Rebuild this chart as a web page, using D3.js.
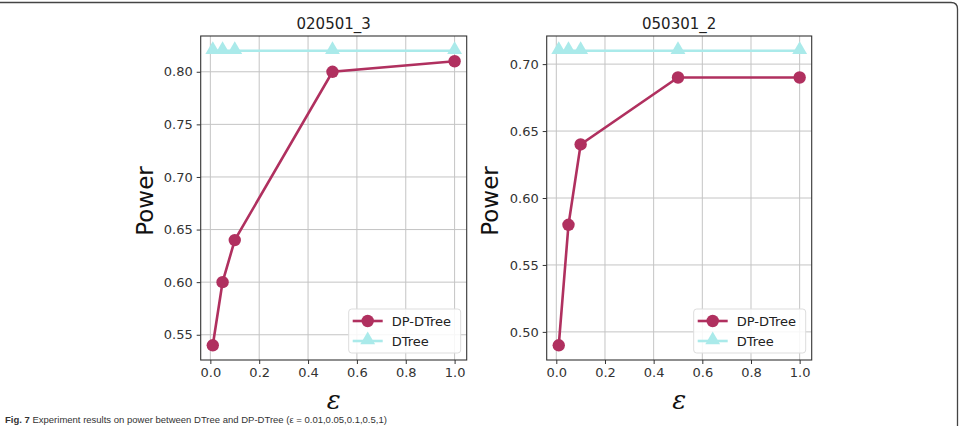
<!DOCTYPE html>
<html>
<head>
<meta charset="utf-8">
<script src="https://cdn.jsdelivr.net/npm/d3@7"></script>
<style>
  html, body { margin: 0; padding: 0; background: #fff; }
  svg { display: block; font-family: "DejaVu Sans", sans-serif; }
</style>
</head>
<body>
<svg id="chart" width="962" height="426"></svg>
<script>
// ---- data ----
const epsilons = [0.01, 0.05, 0.1, 0.5, 1.0];
const panelTitles = ["020501_3", "050301_2"];
const dpDTreeA = [0.54, 0.60, 0.64, 0.80, 0.81];
const dTreeA = [0.82, 0.82, 0.82, 0.82, 0.82];
const dpDTreeB = [0.49, 0.58, 0.64, 0.69, 0.69];
const dTreeB = [0.71, 0.71, 0.71, 0.71, 0.71];
const xTicks = [0.0, 0.2, 0.4, 0.6, 0.8, 1.0];
const yTicksA = [0.55, 0.60, 0.65, 0.70, 0.75, 0.80];
const yTicksB = [0.50, 0.55, 0.60, 0.65, 0.70];
const seriesNames = ["DP-DTree", "DTree"];
const caption = "Fig. 7 Experiment results on power between DTree and DP-DTree (ε = 0.01,0.05,0.1,0.5,1)";

const colDP = "#b0305f";
const colDT = "#aaeaea";

const svg = d3.select("#chart");

// frame
svg.append("path")
  .attr("d", "M0,2.5 H951 Q957.5,2.5 957.5,9 V426")
  .attr("fill", "none").attr("stroke", "#444").attr("stroke-width", 1.3);

const panels = [
  { title: panelTitles[0], dp: dpDTreeA, dt: dTreeA, yTicks: yTicksA, left: 200.7, right: 466.7, ylabX: 146 },
  { title: panelTitles[1], dp: dpDTreeB, dt: dTreeB, yTicks: yTicksB, left: 546.7, right: 811.7, ylabX: 491 }
];
const plotTop = 36, plotBottom = 360;

panels.forEach(p => {
  const g = svg.append("g");
  const allY = p.dp.concat(p.dt);
  const yMin = d3.min(allY), yMax = d3.max(allY);
  const yPad = (yMax - yMin) * 0.05;
  const xMin = d3.min(epsilons), xMax = d3.max(epsilons);
  const xPad = (xMax - xMin) * 0.05;
  const x = d3.scaleLinear().domain([xMin - xPad, xMax + xPad]).range([p.left, p.right]);
  const y = d3.scaleLinear().domain([yMin - yPad, yMax + yPad]).range([plotBottom, plotTop]);

  // grid
  g.append("g").selectAll("line").data(xTicks).join("line")
    .attr("x1", d => x(d)).attr("x2", d => x(d)).attr("y1", plotTop).attr("y2", plotBottom)
    .attr("stroke", "#c4c4c4").attr("stroke-width", 1);
  g.append("g").selectAll("line").data(p.yTicks).join("line")
    .attr("x1", p.left).attr("x2", p.right).attr("y1", d => y(d)).attr("y2", d => y(d))
    .attr("stroke", "#c4c4c4").attr("stroke-width", 1);

  // axes
  const xAxis = g.append("g").attr("transform", `translate(0,${plotBottom})`)
    .call(d3.axisBottom(x).tickValues(xTicks).tickFormat(d3.format(".1f")).tickSize(4).tickPadding(4));
  const yAxis = g.append("g").attr("transform", `translate(${p.left},0)`)
    .call(d3.axisLeft(y).tickValues(p.yTicks).tickFormat(d3.format(".2f")).tickSize(4).tickPadding(4));
  [xAxis, yAxis].forEach(a => {
    a.select(".domain").remove();
    a.selectAll(".tick line").attr("stroke", "#333");
    a.selectAll(".tick text").attr("fill", "#333").style("font-size", "13px")
      .style("font-family", "DejaVu Sans, sans-serif");
  });

  // spines
  g.append("rect").attr("x", p.left).attr("y", plotTop)
    .attr("width", p.right - p.left).attr("height", plotBottom - plotTop)
    .attr("fill", "none").attr("stroke", "#333").attr("stroke-width", 1.1);

  // title
  g.append("text").attr("x", (p.left + p.right) / 2).attr("y", plotTop - 7)
    .attr("text-anchor", "middle").attr("fill", "#222").style("font-size", "15px").text(p.title);

  // axis labels
  g.append("text").attr("transform", `translate(${p.ylabX},${(plotTop + plotBottom) / 2 + 3}) rotate(-90)`)
    .attr("text-anchor", "middle").attr("dominant-baseline", "middle")
    .attr("fill", "#111").style("font-size", "23px").text("Power");
  g.append("text").attr("x", (p.left + p.right) / 2).attr("y", 409)
    .attr("text-anchor", "middle").attr("fill", "#111")
    .style("font-size", "26px").style("font-style", "italic")
    .style("font-family", "DejaVu Serif, serif").text("ε");

  const line = d3.line().x((d, i) => x(epsilons[i])).y(d => y(d));
  const tri = d3.symbol().type(d3.symbolTriangle).size(95);

  // DTree
  g.append("path").datum(p.dt).attr("d", line)
    .attr("fill", "none").attr("stroke", colDT).attr("stroke-width", 2.6);
  g.append("g").selectAll("path").data(p.dt).join("path")
    .attr("d", tri).attr("transform", (d, i) => `translate(${x(epsilons[i])},${y(d) - 1})`)
    .attr("fill", colDT);

  // DP-DTree
  g.append("path").datum(p.dp).attr("d", line)
    .attr("fill", "none").attr("stroke", colDP).attr("stroke-width", 2.6);
  g.append("g").selectAll("circle").data(p.dp).join("circle")
    .attr("cx", (d, i) => x(epsilons[i])).attr("cy", d => y(d)).attr("r", 6.2)
    .attr("fill", colDP);

  // legend
  const lx = p.right - 118, ly = 309, lw = 112, lh = 44;
  const lg = g.append("g");
  lg.append("rect").attr("x", lx).attr("y", ly).attr("width", lw).attr("height", lh)
    .attr("rx", 3).attr("fill", "#fff").attr("fill-opacity", 0.85)
    .attr("stroke", "#ddd").attr("stroke-width", 1);
  const ents = [{ name: seriesNames[0], c: colDP, m: "c" }, { name: seriesNames[1], c: colDT, m: "t" }];
  ents.forEach((e, k) => {
    const yy = ly + 12 + k * 20;
    lg.append("line").attr("x1", lx + 4).attr("x2", lx + 34).attr("y1", yy).attr("y2", yy)
      .attr("stroke", e.c).attr("stroke-width", 2.6);
    if (e.m === "c") {
      lg.append("circle").attr("cx", lx + 19).attr("cy", yy).attr("r", 6.2).attr("fill", e.c);
    } else {
      lg.append("path").attr("d", tri).attr("transform", `translate(${lx + 19},${yy - 1})`).attr("fill", e.c);
    }
    lg.append("text").attr("x", lx + 43).attr("y", yy).attr("dominant-baseline", "central")
      .attr("fill", "#222").style("font-size", "13px").text(e.name);
  });
});

// caption at the bottom edge
const cap = svg.append("text").attr("x", 5).attr("y", 423).attr("fill", "#333")
  .style("font-size", "9.5px").style("font-family", "Liberation Sans, sans-serif");
cap.append("tspan").style("font-weight", "bold").text("Fig. 7 ");
cap.append("tspan").text(caption.replace("Fig. 7 ", ""));
</script>
</body>
</html>
